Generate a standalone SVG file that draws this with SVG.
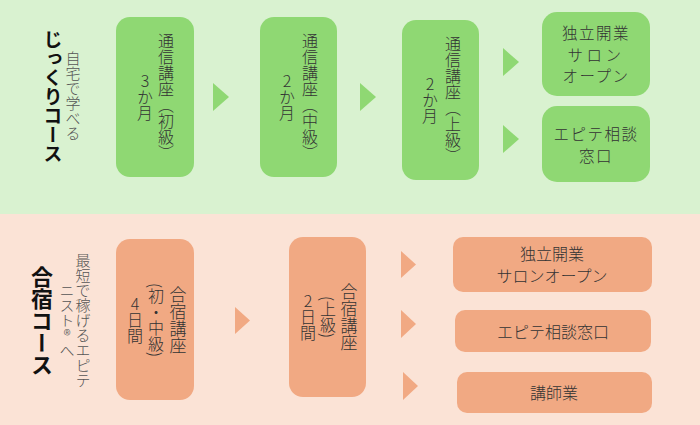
<svg xmlns="http://www.w3.org/2000/svg" width="700" height="425" viewBox="0 0 700 425">
<style>
text{font-family:"Noto Sans CJK JP","Noto Sans",sans-serif;fill:#333}
.v{writing-mode:vertical-rl;text-anchor:middle}
.up{text-orientation:upright}
.h{text-anchor:middle;dominant-baseline:central}
.g{fill:#8fd873}
.o{fill:#f1a983}
.t{font-size:16px;font-weight:300}
.ts{font-size:15.5px;font-weight:300;letter-spacing:1.5px}
.tb{font-size:17px;font-weight:300}
.sub{font-size:15px;fill:#555;font-weight:300}
.ttl{font-weight:bold;fill:#111}
</style>
<rect x="0" y="0" width="700" height="214" fill="#d9f2d0"/>
<rect x="0" y="214" width="700" height="211" fill="#fbe3d6"/>
<g id="title-top">
<text class="v ttl" x="53" y="97" style="font-size:19px">じっくりコース</text>
<text class="v sub" x="73" y="96">自宅で学べる</text>
</g>
<g id="title-bottom">
<text class="v ttl" x="42" y="321" style="font-size:22px">合宿コース</text>
<text class="v sub" x="83" y="320">最短で稼げるエピテ</text>
<text class="v sub" x="67" y="320">ニスト®へ</text>
</g>
<g id="n1">
<rect class="g" x="116" y="17" width="78" height="160" rx="14"/>
<text class="v t" x="166" y="97">通信講座（初級）</text>
<text class="v t up" x="145" y="97">3か月</text>
</g>
<g id="n2">
<rect class="g" x="260" y="17" width="77" height="160" rx="14"/>
<text class="v t" x="310" y="97">通信講座（中級）</text>
<text class="v t up" x="287" y="97">2か月</text>
</g>
<g id="n3">
<rect class="g" x="402" y="20" width="77" height="160" rx="14"/>
<text class="v t" x="453" y="100">通信講座（上級）</text>
<text class="v t up" x="430" y="100">2か月</text>
</g>
<g id="n4">
<rect class="g" x="542" y="12" width="108" height="84" rx="15"/>
<text class="h ts" x="596" y="32">独立開業<tspan x="596" dy="21.5" letter-spacing="3.5">サロン</tspan><tspan x="596" dy="21.5">オープン</tspan></text>
</g>
<g id="n5">
<rect class="g" x="542" y="106" width="108" height="76" rx="15"/>
<text class="h ts" x="596" y="133">エピテ相談<tspan x="596" dy="21.5">窓口</tspan></text>
</g>
<g id="m1">
<rect class="o" x="116" y="239" width="78" height="161" rx="14"/>
<text class="v tb" x="178" y="320">合宿講座</text>
<text class="v t" x="156" y="320">(初・中級)</text>
<text class="v t up" x="135" y="320">4日間</text>
</g>
<g id="m2">
<rect class="o" x="289" y="237" width="77" height="160" rx="14"/>
<text class="v tb" x="349" y="317">合宿講座</text>
<text class="v t" x="328" y="317">(上級)</text>
<text class="v t up" x="308" y="317">2日間</text>
</g>
<g id="m3">
<rect class="o" x="453" y="237" width="199" height="55" rx="10"/>
<text class="h t" x="552" y="253">独立開業<tspan x="552" dy="22">サロンオープン</tspan></text>
</g>
<g id="m4">
<rect class="o" x="455" y="310" width="196" height="42" rx="10"/>
<text class="h t" x="553" y="331">エピテ相談窓口</text>
</g>
<g id="m5">
<rect class="o" x="457" y="372" width="195" height="41" rx="10"/>
<text class="h t" x="554" y="392">講師業</text>
</g>
<g id="connectors">
<polygon class="g" points="213,83 213,111 229,97"/>
<polygon class="g" points="360,83 360,111 376,97"/>
<polygon class="g" points="503,48 503,76 519,62"/>
<polygon class="g" points="503,125 503,153 519,139"/>
<polygon class="o" points="235,307 235,334 250,320.5"/>
<polygon class="o" points="401,251 401,278 416,264.5"/>
<polygon class="o" points="401,310 401,338 416,324"/>
<polygon class="o" points="403,372 403,400 418,386"/>
</g>
</svg>
